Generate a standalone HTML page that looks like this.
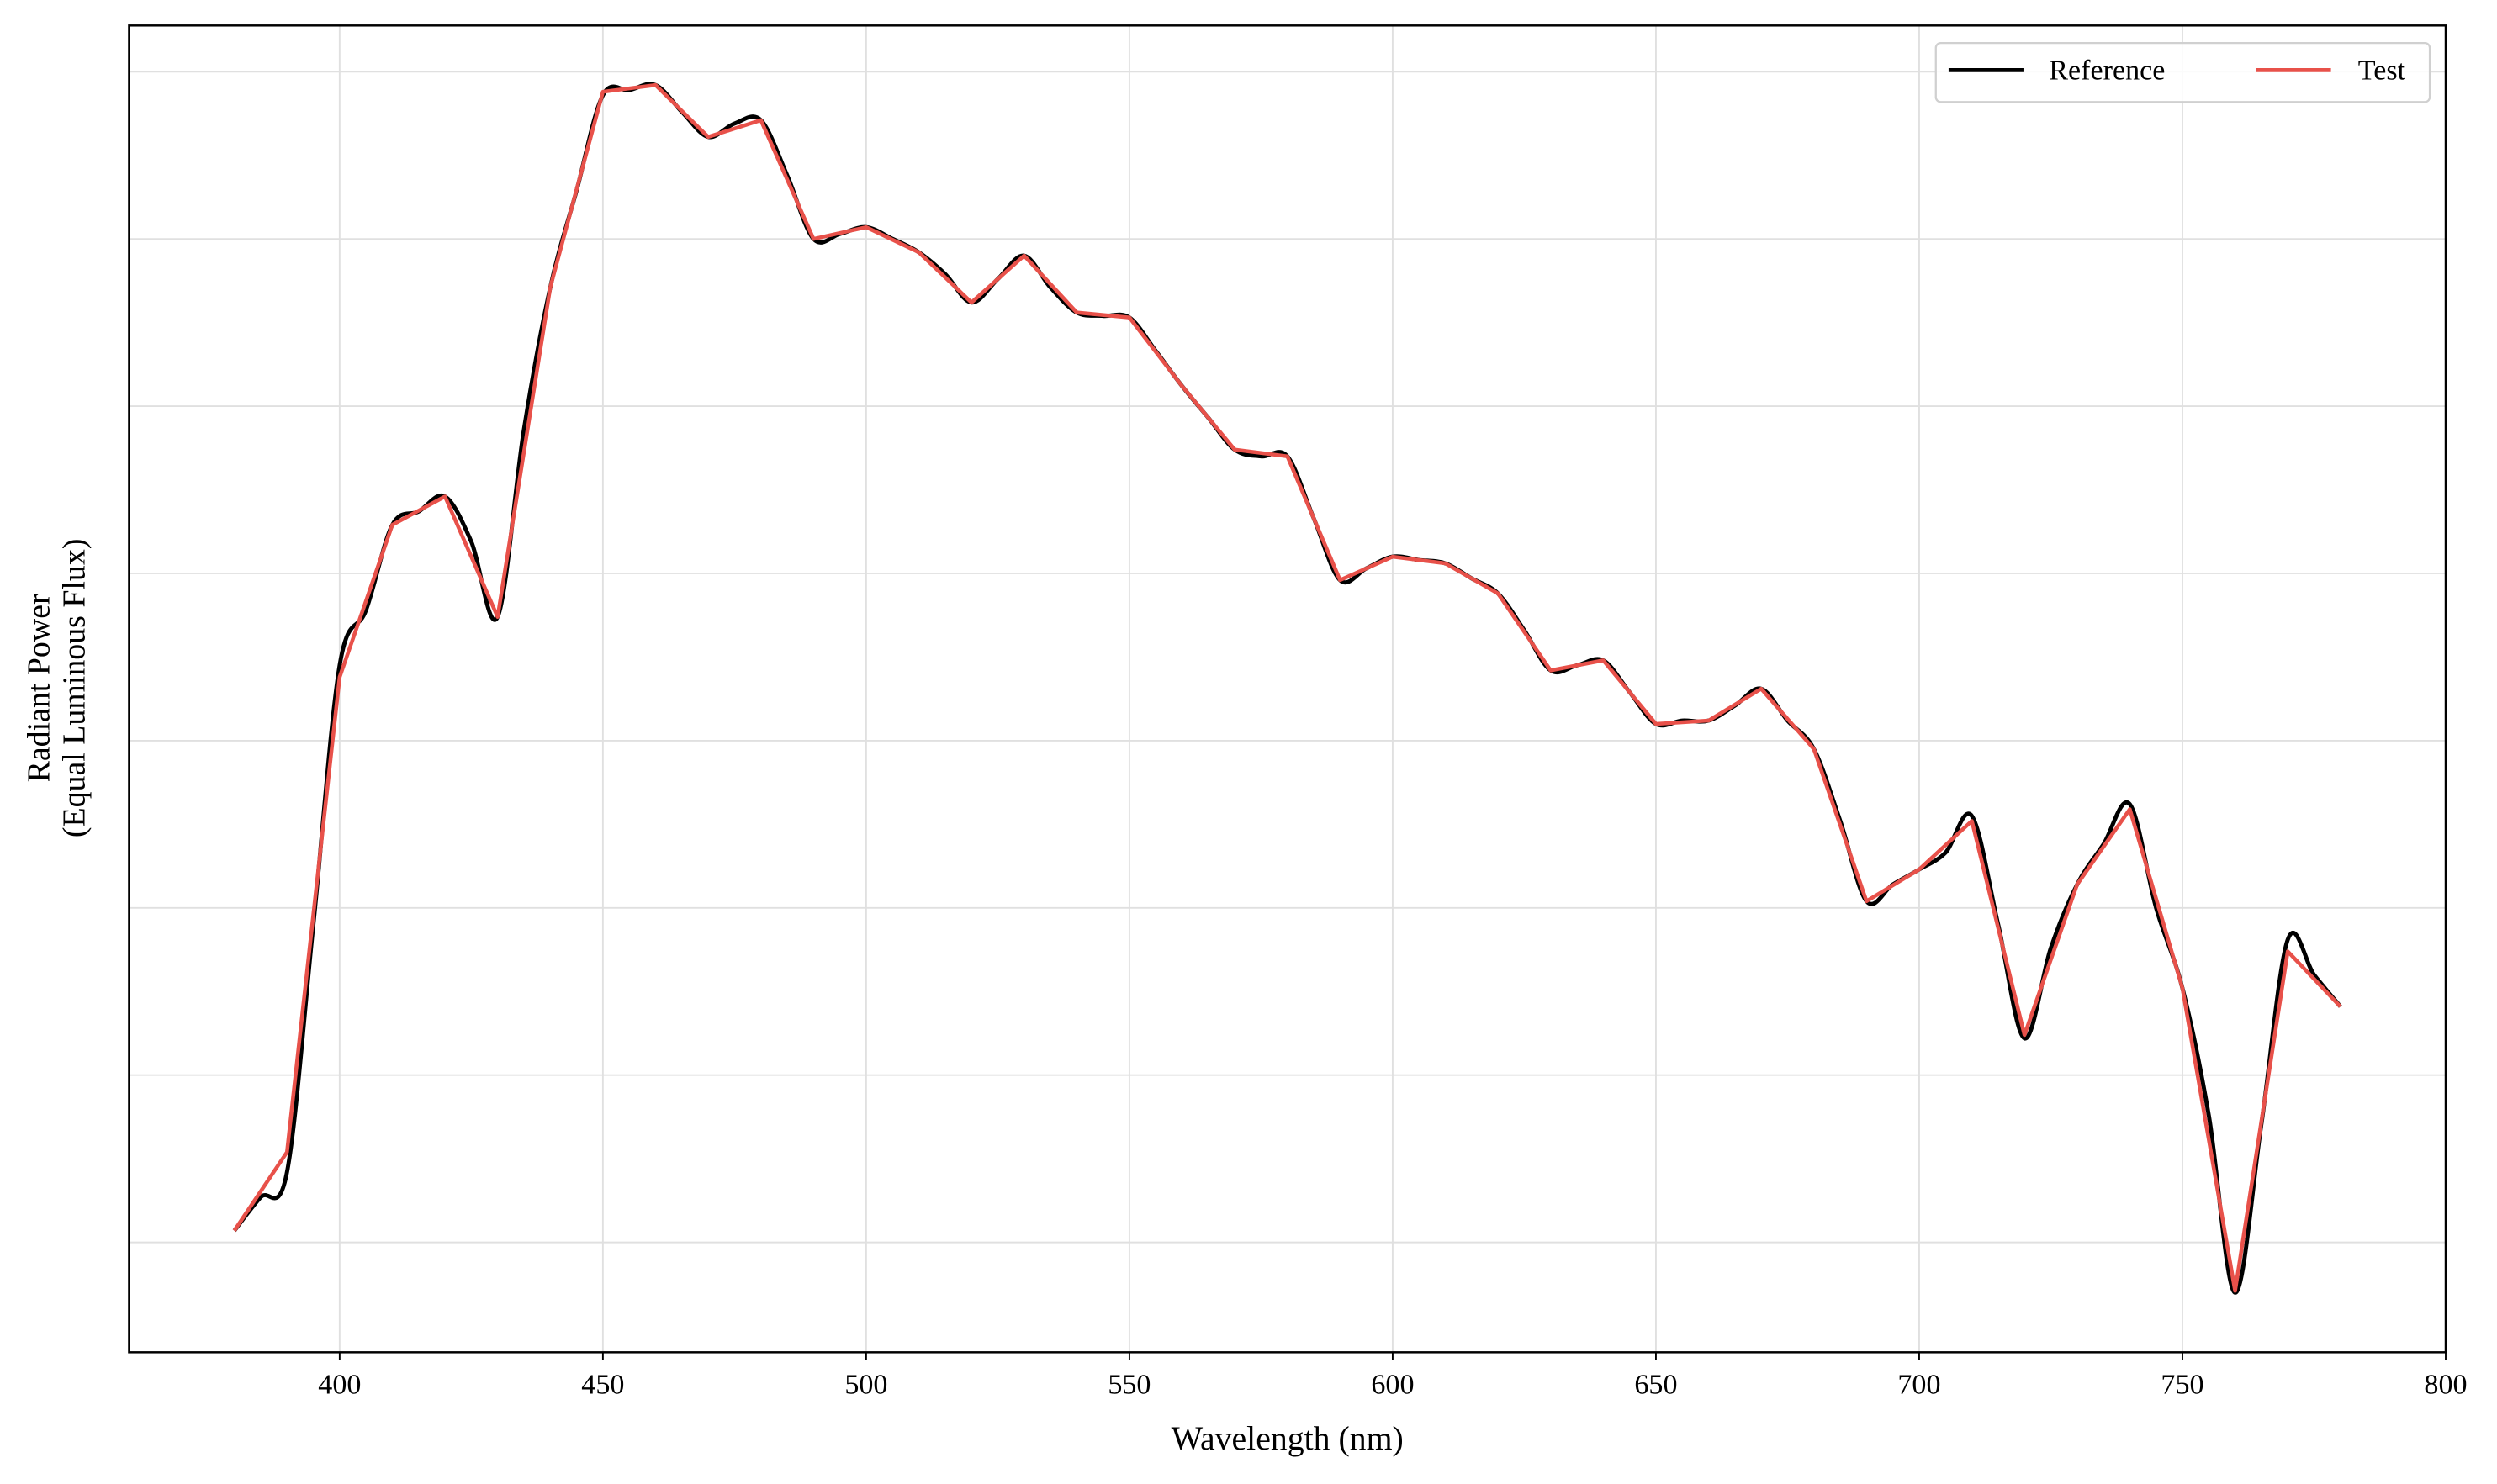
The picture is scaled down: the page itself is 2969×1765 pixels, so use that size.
<!DOCTYPE html>
<html><head><meta charset="utf-8"><style>
html,body{margin:0;padding:0;background:#fff}
svg{display:block;font-family:"Liberation Serif",serif}
</style></head><body>
<svg id="chart" width="2969" height="1765" viewBox="0 0 1567.2 931.7" preserveAspectRatio="none">
<g id="grid"></g>
<g id="series"></g>
<rect x="81" y="16" width="1454" height="833" fill="none" stroke="#000" stroke-width="1.3"/>
<g id="xticks"></g>
<text x="808" y="910" font-size="21" text-anchor="middle">Wavelength (nm)</text>
<text transform="translate(41,432) rotate(-90)" font-size="20" text-anchor="middle"><tspan x="0" dy="-10">Radiant Power</tspan><tspan x="0" dy="22">(Equal Luminous Flux)</tspan></text>
<g>
<rect x="1215" y="27" width="310" height="37" rx="3" fill="#fff" fill-opacity="0.85" stroke="#d0d0d0" stroke-width="1.2"/>
<line x1="1223" y1="44" x2="1270" y2="44" stroke="#000" stroke-width="2.5"/>
<text x="1286" y="50" font-size="18">Reference</text>
<line x1="1416" y1="44" x2="1463" y2="44" stroke="#e8514a" stroke-width="2.5"/>
<text x="1480" y="50" font-size="18">Test</text>
</g>
</svg>
<script>
const refWavelengths=[380,385,390,395,400,405,410,415,420,425,430,435,440,445,450,455,460,465,470,475,480,485,490,495,500,505,510,515,520,525,530,535,540,545,550,555,560,565,570,575,580,585,590,595,600,605,610,615,620,625,630,635,640,645,650,655,660,665,670,675,680,685,690,695,700,705,710,715,720,725,730,735,740,745,750,755,760,765,770,775,780];
const refValues=[0.107,0.127,0.142,0.290,0.445,0.478,0.529,0.537,0.546,0.519,0.474,0.586,0.671,0.729,0.786,0.789,0.792,0.776,0.761,0.769,0.771,0.738,0.700,0.703,0.707,0.700,0.692,0.679,0.662,0.676,0.690,0.671,0.656,0.654,0.653,0.633,0.612,0.593,0.574,0.570,0.570,0.533,0.496,0.503,0.510,0.508,0.506,0.497,0.488,0.466,0.442,0.445,0.448,0.429,0.410,0.412,0.412,0.421,0.431,0.412,0.395,0.352,0.304,0.314,0.323,0.333,0.355,0.290,0.222,0.276,0.314,0.338,0.362,0.300,0.252,0.176,0.070,0.171,0.281,0.260,0.241];
const testWavelengths=[380,390,400,410,420,430,440,450,460,470,480,490,500,510,520,530,540,550,560,570,580,590,600,610,620,630,640,650,660,670,680,690,700,710,720,730,740,750,760,770,780];
const testValues=[0.107,0.154,0.438,0.529,0.546,0.474,0.671,0.788,0.792,0.761,0.771,0.700,0.707,0.692,0.662,0.690,0.656,0.653,0.612,0.574,0.570,0.496,0.510,0.506,0.488,0.442,0.448,0.410,0.412,0.431,0.395,0.304,0.323,0.352,0.224,0.314,0.359,0.252,0.071,0.274,0.241];
const xTicks=[400,450,500,550,600,650,700,750,800];
const yGrid=[0.1,0.2,0.3,0.4,0.5,0.6,0.7,0.8];

const NS="http://www.w3.org/2000/svg";
function xs(w){return 81+(w-360)/440*1454;}
function ys(v){return 780-(v-0.1)*1050;}
function mk(t,a,p){const e=document.createElementNS(NS,t);for(const k in a)e.setAttribute(k,a[k]);p.appendChild(e);return e;}
const grid=document.getElementById('grid'),xt=document.getElementById('xticks'),ser=document.getElementById('series');
xTicks.forEach(t=>{
  const l=mk('line',{x1:xs(t),x2:xs(t),y1:16,y2:849,stroke:'#e0e0e0','stroke-width':1},grid);
  
  
  const tk=mk('line',{x1:xs(t),x2:xs(t),y1:849,y2:854,stroke:'#000','stroke-width':1},xt);
  
  
  const tx=mk('text',{x:xs(t),y:875,'font-size':18,'text-anchor':'middle'},xt);
  tx.textContent=t;
  
  
});
yGrid.forEach(v=>{
  const l=mk('line',{x1:81,x2:1535,y1:ys(v),y2:ys(v),stroke:'#e0e0e0','stroke-width':1},grid);
  
  
});
function smooth(px){
  let d='M'+px[0][0]+','+px[0][1];
  for(let i=0;i<px.length-1;i++){
    const p0=px[Math.max(0,i-1)],p1=px[i],p2=px[i+1],p3=px[Math.min(px.length-1,i+2)];
    d+=' C'+(p1[0]+(p2[0]-p0[0])/6)+','+(p1[1]+(p2[1]-p0[1])/6)+' '+(p2[0]-(p3[0]-p1[0])/6)+','+(p2[1]-(p3[1]-p1[1])/6)+' '+p2[0]+','+p2[1];
  }
  return d;
}
const rp=refWavelengths.map((w,i)=>[xs(w),ys(refValues[i])]);
const ref=mk('path',{d:smooth(rp),fill:'none',stroke:'#000','stroke-width':2.6,'stroke-linejoin':'round'},ser);


const tp=testWavelengths.map((w,i)=>[xs(w),ys(testValues[i])]);
const tst=mk('path',{d:'M'+tp.map(p=>p[0]+','+p[1]).join(' L'),fill:'none',stroke:'#e8514a','stroke-width':2.4,'stroke-linejoin':'round'},ser);


</script>
</body></html>
